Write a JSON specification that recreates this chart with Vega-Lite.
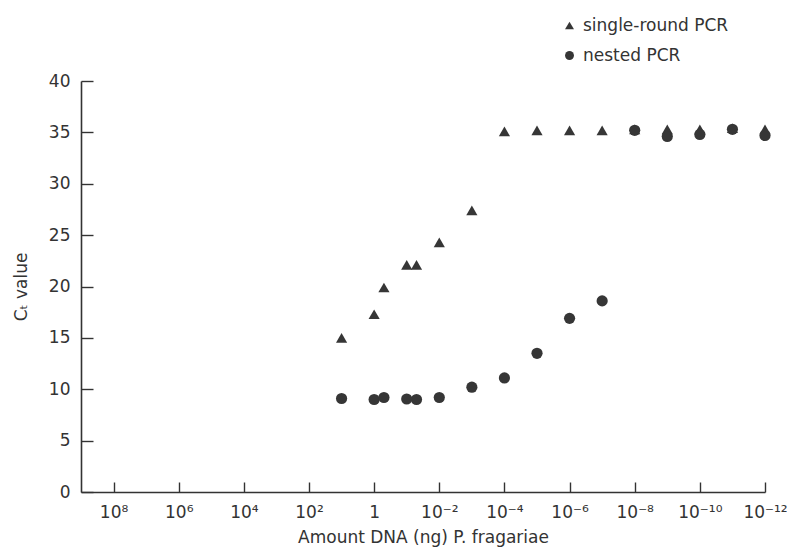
{
  "$schema": "https://vega.github.io/schema/vega-lite/v6.json",
  "width": 684,
  "height": 411,
  "autosize": "none",
  "padding": {"left": 81, "top": 81, "right": 22, "bottom": 56},
  "background": "white",
  "config": {
    "view": {"stroke": null},
    "font": "DejaVu Sans",
    "axis": {
      "domainColor": "#333333",
      "domainWidth": 1.6,
      "tickColor": "#333333",
      "tickWidth": 1.4,
      "labelColor": "#333333",
      "titleColor": "#333333",
      "labelFont": "DejaVu Sans",
      "titleFont": "DejaVu Sans",
      "labelFontSize": 17,
      "titleFontSize": 17,
      "titleFontWeight": "normal",
      "grid": false
    },
    "legend": {
      "labelFont": "DejaVu Sans",
      "labelFontSize": 17,
      "labelColor": "#333333"
    }
  },
  "data": {
    "values": [
      {"amount": 10, "ct": 15.0, "method": "single-round PCR"},
      {"amount": 1, "ct": 17.3, "method": "single-round PCR"},
      {"amount": 0.5, "ct": 19.9, "method": "single-round PCR"},
      {"amount": 0.1, "ct": 22.1, "method": "single-round PCR"},
      {"amount": 0.05, "ct": 22.1, "method": "single-round PCR"},
      {"amount": 0.01, "ct": 24.3, "method": "single-round PCR"},
      {"amount": 0.001, "ct": 27.4, "method": "single-round PCR"},
      {"amount": 1e-4, "ct": 35.1, "method": "single-round PCR"},
      {"amount": 1e-5, "ct": 35.2, "method": "single-round PCR"},
      {"amount": 1e-6, "ct": 35.2, "method": "single-round PCR"},
      {"amount": 1e-7, "ct": 35.2, "method": "single-round PCR"},
      {"amount": 1e-8, "ct": 35.3, "method": "single-round PCR"},
      {"amount": 1e-9, "ct": 35.3, "method": "single-round PCR"},
      {"amount": 1e-10, "ct": 35.3, "method": "single-round PCR"},
      {"amount": 1e-11, "ct": 35.4, "method": "single-round PCR"},
      {"amount": 1e-12, "ct": 35.3, "method": "single-round PCR"},
      {"amount": 10, "ct": 9.1, "method": "nested PCR"},
      {"amount": 1, "ct": 9.0, "method": "nested PCR"},
      {"amount": 0.5, "ct": 9.2, "method": "nested PCR"},
      {"amount": 0.1, "ct": 9.05, "method": "nested PCR"},
      {"amount": 0.05, "ct": 9.0, "method": "nested PCR"},
      {"amount": 0.01, "ct": 9.2, "method": "nested PCR"},
      {"amount": 0.001, "ct": 10.2, "method": "nested PCR"},
      {"amount": 1e-4, "ct": 11.1, "method": "nested PCR"},
      {"amount": 1e-5, "ct": 13.5, "method": "nested PCR"},
      {"amount": 1e-6, "ct": 16.9, "method": "nested PCR"},
      {"amount": 1e-7, "ct": 18.6, "method": "nested PCR"},
      {"amount": 1e-8, "ct": 35.2, "method": "nested PCR"},
      {"amount": 1e-9, "ct": 34.6, "method": "nested PCR"},
      {"amount": 1e-10, "ct": 34.8, "method": "nested PCR"},
      {"amount": 1e-11, "ct": 35.3, "method": "nested PCR"},
      {"amount": 1e-12, "ct": 34.7, "method": "nested PCR"}
    ]
  },
  "mark": {"type": "point", "filled": true, "size": 125, "color": "#363636", "opacity": 1},
  "encoding": {
    "x": {
      "field": "amount",
      "type": "quantitative",
      "scale": {"type": "log", "domain": [1e-12, 1e9], "reverse": true, "nice": false},
      "axis": {
        "values": [1e8, 1e6, 1e4, 100, 1, 0.01, 1e-4, 1e-6, 1e-8, 1e-10, 1e-12],
        "labelExpr": "({'8':'10⁸','6':'10⁶','4':'10⁴','2':'10²','0':'1','-2':'10⁻²','-4':'10⁻⁴','-6':'10⁻⁶','-8':'10⁻⁸','-10':'10⁻¹⁰','-12':'10⁻¹²'})['' + round(log(datum.value) / LN10)]",
        "tickSize": -10,
        "labelPadding": 22,
        "labelFlush": false,
        "labelOverlap": false,
        "title": "Amount DNA (ng) P. fragariae",
        "titlePadding": 9
      }
    },
    "y": {
      "field": "ct",
      "type": "quantitative",
      "scale": {"domain": [0, 40], "nice": false, "zero": true},
      "axis": {
        "values": [0, 5, 10, 15, 20, 25, 30, 35, 40],
        "tickSize": -12,
        "labelPadding": 23,
        "title": "Cₜ value",
        "titlePadding": 18
      }
    },
    "shape": {
      "field": "method",
      "type": "nominal",
      "scale": {"domain": ["single-round PCR", "nested PCR"], "range": ["triangle-up", "circle"]},
      "legend": {
        "title": null,
        "orient": "none",
        "legendX": 480,
        "legendY": -64,
        "symbolSize": 80,
        "symbolFillColor": "#363636",
        "symbolStrokeWidth": 0,
        "rowPadding": 12,
        "labelOffset": 5
      }
    }
  }
}
